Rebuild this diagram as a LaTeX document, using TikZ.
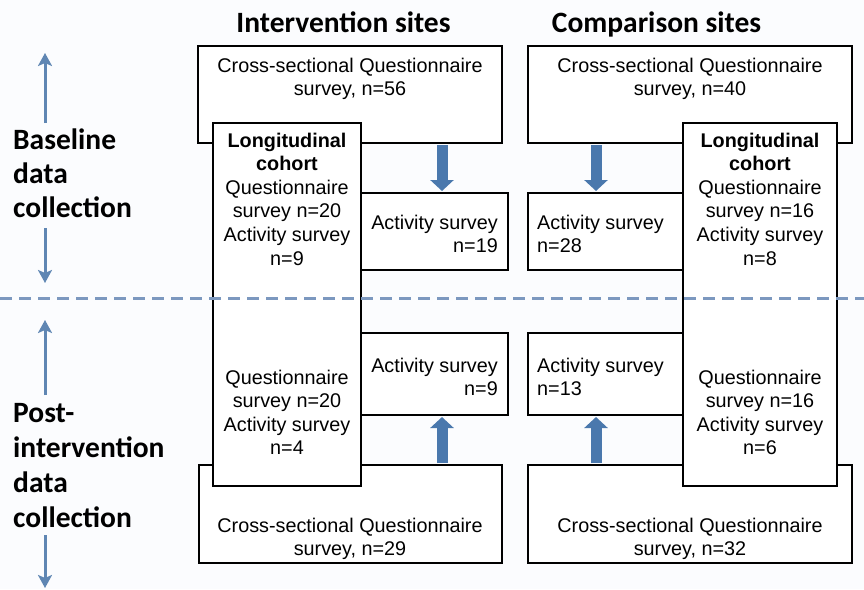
\documentclass[tikz,border=0pt]{standalone}
\usepackage{fontspec}
\setmainfont{Liberation Sans}
\newfontfamily\calfont{Carlito}
\usetikzlibrary{arrows.meta}
\definecolor{bgc}{HTML}{FBFCFE}
\definecolor{bigblue}{HTML}{4A78AD}
\definecolor{smallblue}{HTML}{5F86B3}
\definecolor{dashblue}{HTML}{7C98BF}
\begin{document}
\begin{tikzpicture}[x=1pt,y=-1pt,
  box/.style={draw=black, line width=2pt, fill=white, inner sep=0pt},
  txt/.style={font=\fontsize{19.8}{23.6}\selectfont, inner sep=0pt},
  side/.style={font=\calfont\bfseries\fontsize{29.5}{34}\selectfont, inner sep=0pt, anchor=base west},
  head/.style={font=\calfont\bfseries\fontsize{29.5}{32}\selectfont, inner sep=0pt, anchor=base},
  bigarrow/.style={draw=bigblue, line width=11pt, shorten <=1pt, shorten >=1pt, -{Triangle[width=23pt,length=11pt]}},
  smallarrow/.style={draw=smallblue, line width=3pt, -{Stealth[width=14pt,length=13pt,inset=3pt]}},
  dashline/.style={draw=dashblue, line width=3pt, dash pattern=on 12pt off 7pt}
]
\fill[bgc] (0,0) rectangle (864,589);
\useasboundingbox (0,0) rectangle (864,589);

% headings
\node[head] (hint) at (343.5,32) {Intervention sites};
\node[head] (hcmp) at (656.5,32) {Comparison sites};

% side labels
\node[side] (b1) at (13,149) {Baseline};
\node[side] (b2) at (13,183) {data};
\node[side] (b3) at (13,217) {collection};
\node[side] (p1) at (13,422) {Post-};
\node[side] (p2) at (13,457) {intervention};
\node[side] (p3) at (13,492) {data};
\node[side] (p4) at (13,527) {collection};

% side arrows
\coordinate (ba1) at (45,123); \coordinate (ba2) at (45,53);
\coordinate (bd1) at (45,228); \coordinate (bd2) at (45,283);
\coordinate (pa1) at (45,395); \coordinate (pa2) at (45,320);
\coordinate (pd1) at (45,535); \coordinate (pd2) at (45,588);
\draw[smallarrow] (ba1) -- (ba2);
\draw[smallarrow] (bd1) -- (bd2);
\draw[smallarrow] (pa1) -- (pa2);
\draw[smallarrow] (pd1) -- (pd2);

% intervention boxes
\node[box, minimum width=304pt, minimum height=97pt] (ci1) at (350,94.5) {};
\node[box, minimum width=147pt, minimum height=77pt] (ai1) at (434.5,231.5) {};
\node[box, minimum width=303pt, minimum height=98pt] (ci2) at (350.5,514) {};
\node[box, minimum width=147pt, minimum height=82pt] (ai2) at (434.5,374) {};
\node[box, minimum width=148pt, minimum height=363pt] (li) at (287,304.5) {};

% comparison boxes
\node[box, minimum width=324pt, minimum height=97pt] (cc1) at (690,94.5) {};
\node[box, minimum width=155pt, minimum height=77pt] (ac1) at (605.5,231.5) {};
\node[box, minimum width=324pt, minimum height=98pt] (cc2) at (690,514) {};
\node[box, minimum width=155pt, minimum height=82pt] (ac2) at (605.5,374) {};
\node[box, minimum width=154pt, minimum height=363pt] (lc) at (760,304.5) {};

% texts
\node[txt, align=center] (ci1t) at (350,78.8) {Cross-sectional Questionnaire\\survey, n=56};
\node[txt, align=center] (cc1t) at (690,78.8) {Cross-sectional Questionnaire\\survey, n=40};
\node[txt, align=center] (ci2t) at (350,538.8) {Cross-sectional Questionnaire\\survey, n=29};
\node[txt, align=center] (cc2t) at (690,538.8) {Cross-sectional Questionnaire\\survey, n=32};
\node[txt, align=center] (lit) at (287,199) {\textbf{Longitudinal}\\\textbf{cohort}\\Questionnaire\\survey n=20\\Activity survey\\n=9};
\node[txt, align=center] (lct) at (760,199) {\textbf{Longitudinal}\\\textbf{cohort}\\Questionnaire\\survey n=16\\Activity survey\\n=8};
\node[txt, align=center] (li2t) at (287,412.4) {Questionnaire\\survey n=20\\Activity survey\\n=4};
\node[txt, align=center] (lc2t) at (760,412.4) {Questionnaire\\survey n=16\\Activity survey\\n=6};
\node[txt, align=right, anchor=east] (ai1t) at (498,233.8) {Activity survey\\n=19};
\node[txt, align=right, anchor=east] (ai2t) at (498,376.8) {Activity survey\\n=9};
\node[txt, align=left, anchor=west] (ac1t) at (537,233.8) {Activity survey\\n=28};
\node[txt, align=left, anchor=west] (ac2t) at (537,376.8) {Activity survey\\n=13};

% big arrows
\coordinate (axi) at (442,0);
\coordinate (axc) at (596,0);
\draw[bigarrow] (ci1.south -| axi) -- (ai1.north -| axi);
\draw[bigarrow] (cc1.south -| axc) -- (ac1.north -| axc);
\draw[bigarrow] (ci2.north -| axi) -- (ai2.south -| axi);
\draw[bigarrow] (cc2.north -| axc) -- (ac2.south -| axc);

% dashed separator
\coordinate (dl) at (0,298);
\coordinate (dr) at (864,298);
\draw[dashline] (dl) -- (dr);
\end{tikzpicture}
\end{document}
